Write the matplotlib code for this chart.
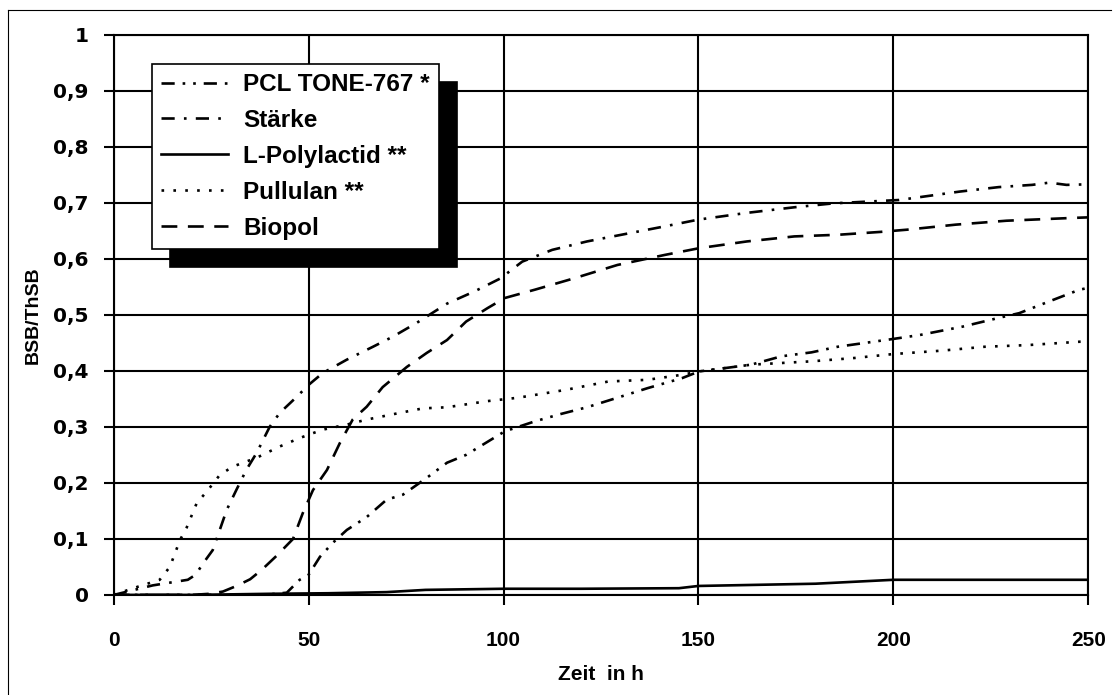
import matplotlib
matplotlib.use("Agg")
import matplotlib.pyplot as plt
from matplotlib.lines import Line2D

# ---------------- data ----------------
x_staerke = [0, 10, 19, 21, 23, 25.4, 27.2, 29, 31.5, 34, 36.7, 40, 42.6, 47, 50, 53.6, 59.8, 66.5,
             71.6, 77.8, 85.5, 92.6, 99.2, 104.8, 112.5, 121.4, 132.5, 141.4, 150, 162.4, 174.6,
             184.6, 193, 201.5, 217, 227, 235.6, 240, 244.4, 250]
y_staerke = [0, 0.017, 0.027, 0.036, 0.057, 0.08, 0.116, 0.152, 0.188, 0.223, 0.254, 0.3, 0.325,
             0.354, 0.375, 0.396, 0.42, 0.443, 0.461, 0.486, 0.52, 0.542, 0.565, 0.595, 0.616,
             0.631, 0.646, 0.658, 0.67, 0.682, 0.692, 0.699, 0.702, 0.705, 0.72, 0.728, 0.732,
             0.736, 0.732, 0.733]

x_pcl = [0, 20, 40, 44.4, 47.7, 50, 52.9, 56.2, 59.8, 64.9, 70, 74.2, 80.3, 85.5, 90.4, 100.3,
         108.1, 114.7, 121.4, 129.2, 136.9, 145.8, 150.2, 156.9, 163.5, 171.3, 179, 185.7, 200,
         206.8, 217.8, 226.7, 232.3, 240, 247.8, 250]
y_pcl = [0, 0, 0.001, 0.004, 0.027, 0.036, 0.068, 0.093, 0.116, 0.139, 0.17, 0.179, 0.209, 0.236,
         0.25, 0.292, 0.31, 0.323, 0.335, 0.352, 0.369, 0.387, 0.399, 0.405, 0.411, 0.426, 0.433,
         0.443, 0.457, 0.464, 0.479, 0.494, 0.503, 0.524, 0.545, 0.548]

x_biopol = [0, 20, 24.6, 28, 31.5, 35, 38, 41.8, 46, 48.5, 51.1, 54.7, 58, 61.3, 64.9, 69, 75.2,
            80.3, 85.5, 90.4, 95.9, 100.3, 108.1, 118, 129.2, 141.4, 150.2, 162.4, 174.6, 186,
            196.6, 203.5, 216, 229, 246, 250]
y_biopol = [0, 0, 0.002, 0.006, 0.016, 0.028, 0.045, 0.07, 0.1, 0.146, 0.187, 0.223, 0.271, 0.313,
            0.336, 0.371, 0.407, 0.432, 0.455, 0.488, 0.512, 0.53, 0.545, 0.565, 0.589, 0.607,
            0.619, 0.631, 0.64, 0.643, 0.648, 0.652, 0.661, 0.668, 0.673, 0.674]

x_pullulan = [0, 5, 11.8, 14.4, 17, 18.7, 21.3, 23.8, 27.2, 30.5, 36.7, 42.6, 47.7, 50, 53.6,
              59.8, 64.9, 73.4, 79.3, 85.5, 95.9, 103.7, 115.9, 126.9, 136.9, 145.8, 150.2, 163.5,
              179, 190.1, 200, 212.3, 223.4, 234.5, 247.8, 250]
y_pullulan = [0, 0.012, 0.027, 0.05, 0.098, 0.12, 0.164, 0.184, 0.214, 0.229, 0.245, 0.265, 0.28,
              0.286, 0.295, 0.304, 0.313, 0.325, 0.333, 0.335, 0.346, 0.352, 0.366, 0.381, 0.384,
              0.393, 0.399, 0.411, 0.417, 0.423, 0.43, 0.436, 0.443, 0.446, 0.452, 0.452]

x_pla = [0, 20, 40, 55, 70, 80, 100, 120, 145, 150, 180, 200, 250]
y_pla = [0, 0, 0.002, 0.003, 0.005, 0.009, 0.011, 0.011, 0.012, 0.016, 0.02, 0.027, 0.027]

labels = ["PCL TONE-767 *", "Stärke", "L-Polylactid **", "Pullulan **", "Biopol"]
x_ticks = [0, 50, 100, 150, 200, 250]
y_ticks = [0, 0.1, 0.2, 0.3, 0.4, 0.5, 0.6, 0.7, 0.8, 0.9, 1.0]
y_ticklabels = ["0", "0,1", "0,2", "0,3", "0,4", "0,5", "0,6", "0,7", "0,8", "0,9", "1"]

# ---------------- figure ----------------
plt.rcParams['font.family'] = ['Liberation Sans', 'DejaVu Sans']
plt.rcParams['font.weight'] = 'bold'

fig = plt.figure(figsize=(11.15, 6.95), dpi=100)
ax = fig.add_axes([0.102, 0.144, 0.874, 0.806])

lw = 1.9
ax.plot(x_pcl, y_pcl, color='black', lw=lw, linestyle=(0, (5, 3, 1, 3, 1, 3)), label=labels[0])
ax.plot(x_staerke, y_staerke, color='black', lw=lw, linestyle=(0, (5, 3.5, 1, 3.5)), label=labels[1])
ax.plot(x_pla, y_pla, color='black', lw=lw, linestyle='-', label=labels[2])
ax.plot(x_pullulan, y_pullulan, color='black', lw=lw, linestyle=(0, (1, 3.5)), label=labels[3])
ax.plot(x_biopol, y_biopol, color='black', lw=lw, linestyle=(0, (6, 4)), label=labels[4])

ax.set_xlim(0, 250)
ax.set_ylim(0, 1)
ax.set_xticks(x_ticks)
ax.set_xticklabels([str(v) for v in x_ticks])
ax.set_yticks(y_ticks)
ax.set_yticklabels(y_ticklabels)
ax.grid(True, color='black', lw=1.5)
ax.set_axisbelow(True)
for s in ax.spines.values():
    s.set_linewidth(1.5)
ax.tick_params(direction='out', length=7, width=1.5)
ax.tick_params(axis='x', labelsize=15, pad=19)
ax.tick_params(axis='y', pad=11)
for t in ax.get_yticklabels():
    t.set_fontfamily(['DejaVu Sans'])
    t.set_fontsize(14.5)
    t.set_fontweight('bold')

ax.set_xlabel("Zeit  in h", fontsize=15, fontweight='bold', labelpad=11)
ax.set_ylabel("BSB/ThSB", fontsize=14, fontweight='bold', labelpad=8)

leg = ax.legend(loc='upper left', bbox_to_anchor=(0.039, 0.948), borderaxespad=0,
                fancybox=False, framealpha=1, edgecolor='black', fontsize=17.5,
                handlelength=2.75, handletextpad=0.62, labelspacing=0.53, borderpad=0.38,
                shadow={'ox': 13, 'oy': -13, 'color': 'black', 'alpha': 1})
leg.get_frame().set_linewidth(1.2)
for t in leg.get_texts():
    t.set_fontweight('bold')

# outer frame lines (top and left, as in the scanned original)
fig.lines.append(Line2D([0.007, 0.996], [0.986, 0.986], transform=fig.transFigure,
                        color='black', lw=0.8))
fig.lines.append(Line2D([0.007, 0.007], [0.0, 0.986], transform=fig.transFigure,
                        color='black', lw=0.8))

fig.savefig("out.png", dpi=100)
